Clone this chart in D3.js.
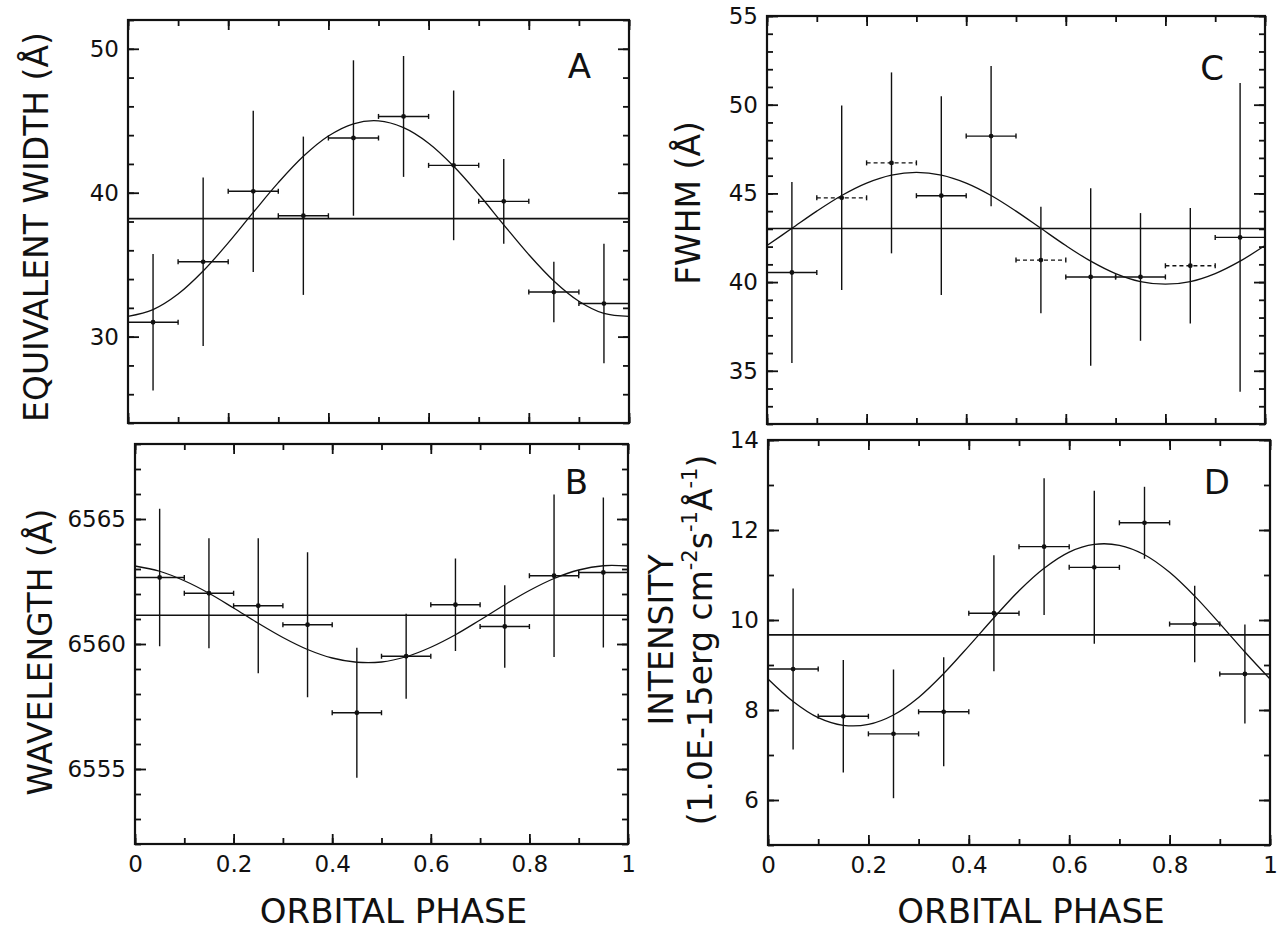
<!DOCTYPE html>
<html lang="en">
  <head>
    <meta charset="UTF-8" />
    <title>Orbital phase</title>
    <script src="https://cdn.jsdelivr.net/npm/d3@7"></script>
    <style>
      body { margin: 0; background: #fff; }
      text { font-family: "DejaVu Sans", "Liberation Sans", sans-serif; fill: #111; }
    </style>
  </head>
  <body>
    <div id="wrapper"></div>
    <script>
      // phase bins (centre and half width)
      const phase = [0.05, 0.15, 0.25, 0.35, 0.45, 0.55, 0.65, 0.75, 0.85, 0.95]
      const phaseErr = [0.05, 0.05, 0.05, 0.05, 0.05, 0.05, 0.05, 0.05, 0.05, 0.05]
      const phaseTicks = [0, 0.2, 0.4, 0.6, 0.8, 1]
      const fitPhase = [0, 0.05, 0.1, 0.15, 0.2, 0.25, 0.3, 0.35, 0.4, 0.45, 0.5,
        0.55, 0.6, 0.65, 0.7, 0.75, 0.8, 0.85, 0.9, 0.95, 1]

      // A - equivalent width
      const ewValues = [31.0, 35.2, 40.1, 38.4, 43.8, 45.3, 41.9, 39.4, 33.1, 32.3]
      const ewErrors = [4.75, 5.85, 5.6, 5.5, 5.4, 4.2, 5.2, 2.95, 2.1, 4.15]
      const ewMean = 38.2
      const ewFit = [31.41, 31.88, 32.96, 34.56, 36.51, 38.63, 40.70, 42.53, 43.94, 44.79, 44.99,
        44.52, 43.44, 41.84, 39.89, 37.77, 35.70, 33.87, 32.46, 31.61, 31.41]
      const ewTicks = [30, 40, 50]

      // B - wavelength
      const wlValues = [6562.66, 6562.03, 6561.53, 6560.77, 6557.25, 6559.51, 6561.57, 6560.70, 6562.73, 6562.86]
      const wlErrors = [2.75, 2.2, 2.7, 2.9, 2.6, 1.7, 1.85, 1.65, 3.25, 3.0]
      const wlMean = 6561.15
      const wlFit = [6563.12, 6562.91, 6562.53, 6562.03, 6561.44, 6560.83, 6560.26, 6559.78, 6559.44, 6559.27, 6559.28,
        6559.49, 6559.87, 6560.37, 6560.96, 6561.57, 6562.14, 6562.62, 6562.96, 6563.13, 6563.12]
      const wlTicks = [6555, 6560, 6565]

      // C - FWHM
      const fwValues = [40.54, 44.75, 46.72, 44.87, 48.23, 41.24, 40.29, 40.29, 40.92, 42.52]
      const fwErrors = [5.1, 5.2, 5.1, 5.6, 3.95, 3.0, 5.0, 3.6, 3.25, 8.7]
      const fwMean = 43.02
      const fwFit = [42.06, 43.03, 44.00, 44.88, 45.58, 46.03, 46.18, 46.03, 45.58, 44.88, 44.00,
        43.03, 42.06, 41.18, 40.48, 40.03, 39.88, 40.03, 40.48, 41.18, 42.06]
      const fwTicks = [35, 40, 45, 50, 55]

      // D - intensity
      const inValues = [8.91, 7.86, 7.47, 7.96, 10.15, 11.63, 11.17, 12.16, 9.91, 8.80]
      const inErrors = [1.79, 1.25, 1.43, 1.21, 1.29, 1.52, 1.7, 0.8, 0.85, 1.1]
      const inMean = 9.67
      const inFit = [8.69, 8.19, 7.83, 7.66, 7.68, 7.89, 8.28, 8.81, 9.42, 10.05, 10.65,
        11.15, 11.51, 11.68, 11.66, 11.45, 11.06, 10.53, 9.92, 9.29, 8.69]
      const inTicks = [6, 8, 10, 12, 14]

      const panels = [
        {
          letter: 'A', values: ewValues, errors: ewErrors, mean: ewMean, fit: ewFit,
          ticks: ewTicks, domain: [24, 52], minor: 2,
          box: { left: 128, right: 629, top: 20, bottom: 423 },
          title: [[{ t: 'EQUIVALENT WIDTH (Å)' }]], titleX: [48], titleY: 227,
          letterPos: [591, 78], xLabels: false, dotted: []
        },
        {
          letter: 'B', values: wlValues, errors: wlErrors, mean: wlMean, fit: wlFit,
          ticks: wlTicks, domain: [6552, 6568], minor: 1,
          box: { left: 135, right: 628, top: 444, bottom: 844 },
          title: [[{ t: 'WAVELENGTH (Å)' }]], titleX: [52], titleY: 652,
          letterPos: [588, 494], xLabels: true, dotted: []
        },
        {
          letter: 'C', values: fwValues, errors: fwErrors, mean: fwMean, fit: fwFit,
          ticks: fwTicks, domain: [32, 55], minor: 1,
          box: { left: 767, right: 1265, top: 16, bottom: 424 },
          title: [[{ t: 'FWHM (Å)' }]], titleX: [700], titleY: 203,
          letterPos: [1224, 80], xLabels: false, dotted: [1, 2, 5, 8]
        },
        {
          letter: 'D', values: inValues, errors: inErrors, mean: inMean, fit: inFit,
          ticks: inTicks, domain: [5, 14], minor: 1,
          box: { left: 768, right: 1270, top: 440, bottom: 845 },
          title: [
            [{ t: 'INTENSITY' }],
            [{ t: '(1.0E-15erg cm' }, { t: '-2', sup: true }, { t: 's' }, { t: '-1', sup: true },
              { t: 'Å' }, { t: '-1', sup: true }, { t: ')' }]
          ],
          titleX: [673, 712], titleY: 640,
          letterPos: [1230, 494], xLabels: true, dotted: []
        }
      ]

      const svg = d3.select('#wrapper').append('svg')
        .attr('width', 1279)
        .attr('height', 934)

      panels.forEach(p => drawPanel(svg, p))

      function drawPanel(svg, p) {
        const box = p.box
        const x = d3.scaleLinear().domain([0, 1]).range([box.left, box.right])
        const y = d3.scaleLinear().domain(p.domain).range([box.bottom, box.top])
        const g = svg.append('g')

        const minorY = d3.range(p.domain[0], p.domain[1] + 1e-9, p.minor)
        const minorX = d3.range(0, 10.5).map(i => i / 10)

        const addAxis = (axis, tx, ty) => {
          const a = g.append('g')
            .attr('transform', `translate(${tx},${ty})`)
            .call(axis)
          a.select('.domain').remove()
          a.selectAll('line').attr('stroke', '#111').attr('stroke-width', 1.8)
          a.selectAll('text').attr('font-size', 23).attr('font-family', null)
          return a
        }

        // inward ticks on all four sides
        addAxis(d3.axisLeft(y).tickValues(minorY).tickSize(-6).tickFormat(''), box.left, 0)
        addAxis(d3.axisLeft(y).tickValues(p.ticks).tickSize(-11).tickPadding(9)
          .tickFormat(d3.format('d')), box.left, 0)
        addAxis(d3.axisRight(y).tickValues(minorY).tickSize(-6).tickFormat(''), box.right, 0)
        addAxis(d3.axisRight(y).tickValues(p.ticks).tickSize(-11).tickFormat(''), box.right, 0)
        addAxis(d3.axisTop(x).tickValues(minorX).tickSize(-6).tickFormat(''), 0, box.top)
        addAxis(d3.axisTop(x).tickValues(phaseTicks).tickSize(-10).tickFormat(''), 0, box.top)
        addAxis(d3.axisBottom(x).tickValues(minorX).tickSize(-6).tickFormat(''), 0, box.bottom)
        addAxis(d3.axisBottom(x).tickValues(phaseTicks).tickSize(-10).tickPadding(12)
          .tickFormat(p.xLabels ? d3.format('~g') : ''), 0, box.bottom)

        // frame
        g.append('rect')
          .attr('x', box.left)
          .attr('y', box.top)
          .attr('width', box.right - box.left)
          .attr('height', box.bottom - box.top)
          .attr('fill', 'none')
          .attr('stroke', '#111')
          .attr('stroke-width', 2.2)

        // mean level
        g.append('line')
          .attr('x1', x(0)).attr('x2', x(1))
          .attr('y1', y(p.mean)).attr('y2', y(p.mean))
          .attr('stroke', '#111')
          .attr('stroke-width', 1.7)

        // fitted sine
        const line = d3.line()
          .x((d, i) => x(fitPhase[i]))
          .y(d => y(d))
          .curve(d3.curveCatmullRom)
        g.append('path')
          .attr('d', line(p.fit))
          .attr('fill', 'none')
          .attr('stroke', '#111')
          .attr('stroke-width', 1.3)

        const pts = p.values.map((v, i) => ({ ph: phase[i], dph: phaseErr[i], v, e: p.errors[i], i }))
        const pg = g.append('g').attr('stroke', '#111')

        // vertical error bars
        pg.selectAll('.ey').data(pts).join('line')
          .attr('x1', d => x(d.ph)).attr('x2', d => x(d.ph))
          .attr('y1', d => y(d.v - d.e)).attr('y2', d => y(d.v + d.e))
          .attr('stroke-width', 1.4)

        // horizontal error bars
        pg.selectAll('.ex').data(pts).join('line')
          .attr('x1', d => x(d.ph - d.dph)).attr('x2', d => x(d.ph + d.dph))
          .attr('y1', d => y(d.v)).attr('y2', d => y(d.v))
          .attr('stroke-width', 1.4)
          .attr('stroke-dasharray', d => p.dotted.includes(d.i) ? '4 3' : null)

        // small caps on the phase bars
        const caps = pts.flatMap(d => [x(d.ph - d.dph), x(d.ph + d.dph)].map(cx => ({ cx, cy: y(d.v) })))
        pg.selectAll('.cap').data(caps).join('line')
          .attr('x1', d => d.cx).attr('x2', d => d.cx)
          .attr('y1', d => d.cy - 2.5).attr('y2', d => d.cy + 2.5)
          .attr('stroke-width', 1.4)

        g.selectAll('.pt').data(pts).join('circle')
          .attr('cx', d => x(d.ph))
          .attr('cy', d => y(d.v))
          .attr('r', 2.4)
          .attr('fill', '#111')

        // panel letter
        g.append('text')
          .attr('x', p.letterPos[0])
          .attr('y', p.letterPos[1])
          .attr('text-anchor', 'end')
          .attr('font-size', 34)
          .text(p.letter)

        // y title (rotated)
        p.title.forEach((segs, li) => {
          const t = g.append('text')
            .attr('transform', `translate(${p.titleX[li]},${p.titleY}) rotate(-90)`)
            .attr('text-anchor', 'middle')
            .attr('font-size', 33)
          let shifted = false
          segs.forEach(s => {
            const span = t.append('tspan').text(s.t)
            if (s.sup) {
              span.attr('font-size', 21).attr('dy', -15)
              shifted = true
            } else if (shifted) {
              span.attr('dy', 15)
              shifted = false
            }
          })
        })

        // x title
        if (p.xLabels) {
          g.append('text')
            .attr('x', (box.left + box.right) / 2 + 12)
            .attr('y', 923)
            .attr('text-anchor', 'middle')
            .attr('font-size', 34)
            .text('ORBITAL PHASE')
        }
      }
    </script>
  </body>
</html>
